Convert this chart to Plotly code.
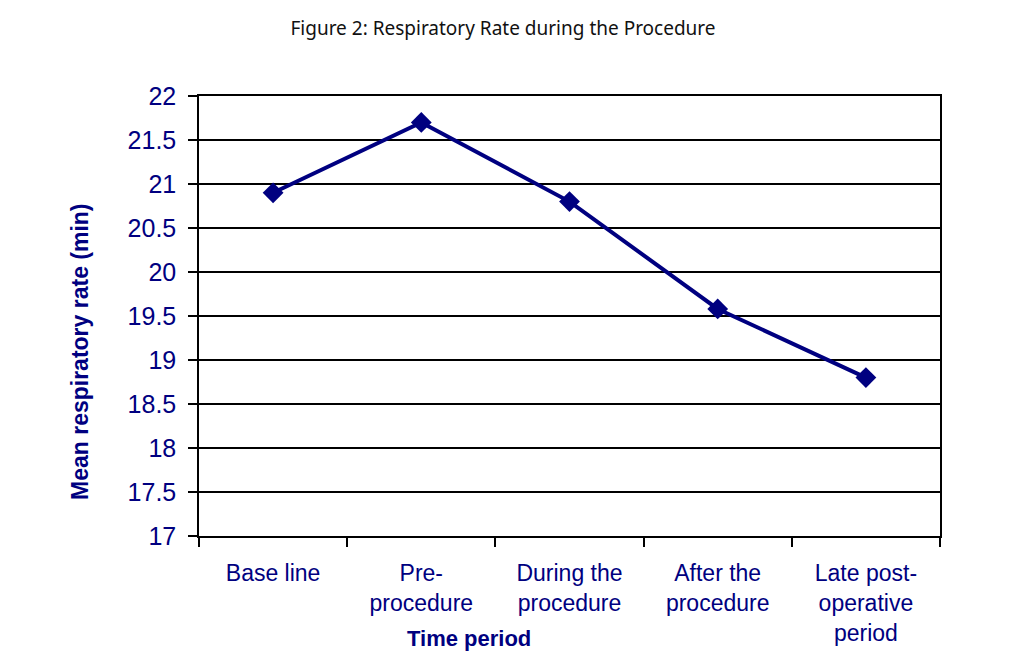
import plotly.graph_objects as go

categories = ["Base line", "Pre-<br>procedure", "During the<br>procedure",
              "After the<br>procedure", "Late post-<br>operative<br>period"]
resp_rate = [20.9, 21.7, 20.8, 19.58, 18.8]

navy = "#000080"
W, H = 1002, 659
L, R, T, B = 191, 70, 88, 131
pw, ph = W - L - R, H - T - B

fig = go.Figure()
fig.add_trace(go.Scatter(
    x=categories, y=resp_rate, mode="lines+markers",
    line=dict(color=navy, width=4),
    marker=dict(symbol="diamond", size=16, color=navy),
    showlegend=False,
))

fig.update_layout(
    width=W, height=H,
    margin=dict(l=L, r=R, t=T, b=B),
    paper_bgcolor="white", plot_bgcolor="white",
    title=dict(text="Figure 2: Respiratory Rate during the Procedure",
               x=495 / W, xanchor="center", y=1 - 20 / H, yanchor="middle",
               font=dict(family="Noto Sans, Liberation Sans, Arial", size=19, color="#111111")),
    font=dict(family="Liberation Sans, Arial", color=navy),
)
fig.update_xaxes(
    type="category", range=[-0.5, len(categories) - 0.5],
    tickson="boundaries", ticks="outside", ticklen=9,
    tickcolor="black", tickwidth=1.5,
    showline=True, linecolor="black", linewidth=1.5, mirror=True,
    showgrid=False, tickfont=dict(size=23, color=navy),
    ticklabelstandoff=16,
)
fig.update_yaxes(
    range=[17, 22], dtick=0.5, tick0=17, ticks="outside", ticklen=9,
    tickcolor="black", tickwidth=1.5,
    showline=True, linecolor="black", linewidth=1.5, mirror=True,
    showgrid=True, gridcolor="black", gridwidth=1.5, zeroline=False,
    tickfont=dict(size=25, color=navy),
    ticklabelstandoff=7,
)
fig.add_annotation(
    text="<b>Time period</b>", xref="paper", yref="paper",
    x=(461 - L) / pw, y=1 - (630 - T) / ph, xanchor="center", yanchor="middle",
    showarrow=False, font=dict(size=22, color=navy),
)
fig.add_annotation(
    text="<b>Mean respiratory rate (min)</b>", xref="paper", yref="paper",
    x=(72 - L) / pw, y=1 - (344 - T) / ph, xanchor="center", yanchor="middle",
    textangle=-90, showarrow=False, font=dict(size=23, color=navy),
)

fig.write_html("out.html")
